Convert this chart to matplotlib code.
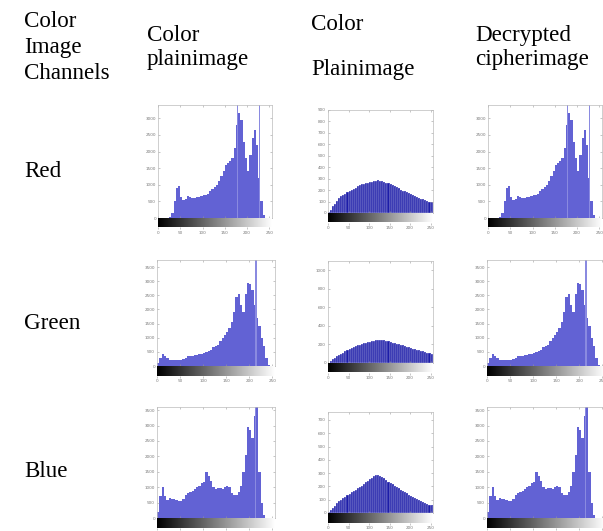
"""Histogram comparison table: plain, cipher and decrypted colour channels."""

import matplotlib
matplotlib.use("Agg")
import matplotlib.pyplot as plt
from matplotlib import font_manager
import numpy as np

W, H = 603, 531

# grey levels sampled every 5 levels (bin left edges)
levels = list(range(0, 256, 5))

# plain (and decrypted) histograms, counts per bin
red_plain = [0, 0, 0, 0, 10, 40, 150, 500, 900, 950, 620, 530, 580, 660, 620, 600,
             610, 620, 630, 660, 700, 700, 720, 800, 880, 940, 1000, 1100, 1250, 1400,
             1600, 1650, 1720, 1800, 2100, 2800, 3150, 2950, 2300, 1800, 1400, 1900,
             2400, 2650, 2200, 1200, 500, 100, 0, 0, 0, 0]
green_plain = [100, 300, 430, 350, 280, 220, 210, 200, 200, 200, 200, 230, 280, 350,
               360, 370, 380, 400, 420, 440, 450, 480, 520, 580, 660, 710, 760, 880,
               1000, 1100, 1200, 1350, 1570, 1900, 2450, 2550, 2150, 1900, 2550, 2950,
               2900, 2700, 2150, 1700, 1400, 1000, 700, 300, 50, 0, 0, 0]
blue_plain = [200, 700, 1000, 700, 580, 640, 630, 620, 600, 560, 540, 620, 750, 800,
              850, 890, 930, 990, 1050, 1120, 1180, 1500, 1350, 1200, 1000, 950, 980,
              960, 950, 1000, 1050, 1000, 800, 730, 760, 850, 1050, 1500, 2050, 2950,
              2850, 2600, 3300, 3600, 1500, 500, 100, 0, 0, 0, 0, 0]

# single-level spikes in the plain histograms (level, count)
red_spikes = [(177, 3400), (227, 3400)]
green_spikes = [(212, 3750), (214, 3750), (229, 3750)]
blue_spikes = [(212, 3600), (216, 3600)]

# cipher histograms
red_cipher = [5, 30, 58, 80, 105, 130, 145, 158, 170, 180, 190, 200, 210, 220, 232,
              243, 250, 256, 262, 266, 270, 275, 280, 283, 285, 282, 278, 272, 265,
              258, 252, 245, 235, 225, 215, 205, 196, 188, 180, 172, 162, 155, 147,
              140, 132, 126, 120, 112, 106, 100, 96, 92]
green_cipher = [5, 20, 40, 58, 75, 88, 100, 112, 125, 140, 150, 160, 170, 180, 190,
                198, 205, 212, 218, 224, 230, 236, 240, 245, 248, 250, 249, 247, 240,
                232, 225, 218, 212, 205, 200, 196, 190, 183, 175, 168, 162, 155, 148,
                142, 138, 132, 125, 118, 112, 106, 100, 98]
blue_cipher = [5, 20, 38, 55, 72, 87, 100, 112, 124, 135, 145, 155, 165, 175, 185,
               194, 205, 218, 230, 242, 254, 265, 275, 283, 287, 282, 272, 260, 248,
               236, 224, 215, 205, 195, 185, 175, 166, 157, 148, 139, 130, 121, 113,
               104, 95, 87, 80, 73, 66, 60, 57, 55]

plain_ylims = [3400, 3750, 3600]
plain_yticks = [range(0, 3001, 500), range(0, 3501, 500), range(0, 3501, 500)]
cipher_ylims = [900, 1100, 760]
cipher_ytick_step = [100, 200, 100]

row_names = ["Red", "Green", "Blue"]
xtick_vals = [0, 50, 100, 150, 200, 250]

PLAIN_COLOR = "#6262d4"
SPIKE_COLOR = "#8a8ae0"
CIPHER_COLOR = "#1c1ca8"


def rect(x0, y0, x1, y1):
    return [x0 / W, 1 - y1 / H, (x1 - x0) / W, (y1 - y0) / H]


def draw_hist(fig, box, cbar_h, values, spikes, ylim, yticks, color, stripes):
    x0, y0, x1, y1 = box
    ax = fig.add_axes(rect(x0, y0, x1, y1))
    ax.bar(levels, values, width=5, align="edge", color=color,
           edgecolor="white" if stripes else color, linewidth=0.2 if stripes else 0)
    for lv, c in spikes:
        ax.bar(lv, c, width=2, align="edge", color=SPIKE_COLOR, linewidth=0)
    ax.set_xlim(0, 256)
    ax.set_ylim(0, ylim)
    ax.set_xticks(xtick_vals)
    ax.set_xticklabels([])
    ax.set_yticks(list(yticks))
    ax.set_yticklabels([str(t) for t in yticks], fontsize=3, color="#777777",
                       family="DejaVu Sans")
    ax.tick_params(direction="in", length=1.5, width=0.4, color="#999999",
                   top=True, right=True, pad=1.5)
    for s in ax.spines.values():
        s.set_color("#bbbbbb")
        s.set_linewidth(0.5)

    cax = fig.add_axes(rect(x0, y1, x1, y1 + cbar_h))
    cax.imshow(np.linspace(0, 1, 256)[None, :], cmap="gray", aspect="auto",
               extent=[0, 256, 0, 1])
    cax.set_yticks([])
    cax.set_xticks(xtick_vals)
    cax.set_xticklabels([str(t) for t in xtick_vals], fontsize=3, color="#777777",
                        family="DejaVu Sans")
    cax.tick_params(axis="x", length=1.5, width=0.4, color="#999999", pad=1)
    for s in cax.spines.values():
        s.set_visible(False)


def main():
    names = {f.name for f in font_manager.fontManager.ttflist}
    serif = [n for n in ["Liberation Serif", "DejaVu Serif"] if n in names]
    plt.rcParams["font.family"] = "serif"
    plt.rcParams["font.serif"] = serif + ["DejaVu Serif"]
    fig = plt.figure(figsize=(W / 100, H / 100), dpi=100)

    fs = 16.6
    headers = [
        (24, 27, "Color"), (24, 53, "Image"), (24, 79, "Channels"),
        (147, 41, "Color"), (147, 65, "plainimage"),
        (311, 30, "Color"), (311, 75, "Plainimage"),
        (475, 41, "Decrypted"), (475, 65, "cipherimage"),
    ]
    for x, y, s in headers:
        fig.text(x / W, 1 - y / H, s, fontsize=fs, va="baseline", ha="left")
    for y, name in zip([177, 329, 477], row_names):
        fig.text(24 / W, 1 - y / H, name, fontsize=fs, va="baseline", ha="left")

    plain = [red_plain, green_plain, blue_plain]
    spikes = [red_spikes, green_spikes, blue_spikes]
    cipher = [red_cipher, green_cipher, blue_cipher]

    plain_boxes = [(158, 105, 272, 218), (157, 260, 275, 366), (157, 407, 275, 518)]
    cipher_boxes = [(328, 110, 433, 213), (328, 261, 433, 363), (328, 412, 433, 513)]

    for i in range(3):
        draw_hist(fig, plain_boxes[i], 9.5, plain[i], spikes[i], plain_ylims[i],
                  plain_yticks[i], PLAIN_COLOR, False)
        yt = range(0, cipher_ylims[i] + 1, cipher_ytick_step[i])
        draw_hist(fig, cipher_boxes[i], 9.5, cipher[i], [], cipher_ylims[i],
                  yt, CIPHER_COLOR, True)
        bx = plain_boxes[i]
        dec_box = (bx[0] + 330, bx[1], bx[2] + 330, bx[3])
        draw_hist(fig, dec_box, 9.5, plain[i], spikes[i], plain_ylims[i],
                  plain_yticks[i], PLAIN_COLOR, False)

    fig.savefig("out.png", dpi=100)
    plt.close(fig)


if __name__ == "__main__":
    main()
